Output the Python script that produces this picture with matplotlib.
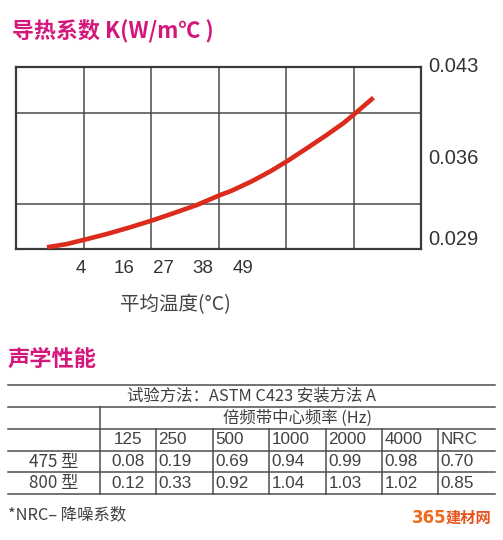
import matplotlib
matplotlib.use("Agg")
import matplotlib.pyplot as plt
import numpy as np

plt.rcParams['font.family'] = ['Liberation Sans', 'Noto Sans CJK SC', 'DejaVu Sans']

# ---------------- data ----------------
title_k = "导热系数 K(W/m℃ )"
title_acoustic = "声学性能"
x_label = "平均温度(°C)"
temp_ticks = [4, 16, 27, 38, 49]
k_ticks = [0.029, 0.036, 0.043]
curve_temp = [-5.4, 0.1, 5.5, 11.2, 17.7, 24.2, 29.7, 36.2, 42.7, 45.7,
              51.3, 56.8, 61.4, 66.8, 72.3, 76.9, 79.9, 85.3]
curve_k = [0.02913, 0.02938, 0.02975, 0.03015, 0.03067, 0.03123, 0.03175,
           0.03238, 0.03315, 0.03346, 0.03418, 0.03500, 0.03577, 0.03675,
           0.03777, 0.03867, 0.03936, 0.04064]

method_text = "试验方法：ASTM C423 安装方法 A"
band_text = "倍频带中心频率 (Hz)"
freq_headers = ["125", "250", "500", "1000", "2000", "4000", "NRC"]
row_labels = ["475 型", "800 型"]
row_475 = ["0.08", "0.19", "0.69", "0.94", "0.99", "0.98", "0.70"]
row_800 = ["0.12", "0.33", "0.92", "1.04", "1.03", "1.02", "0.85"]
footnote = "*NRC– 降噪系数"
watermark_num = "365"
watermark_txt = "建材网"

# ---------------- figure ----------------
W, H = 503, 540
fig = plt.figure(figsize=(W / 100, H / 100), dpi=100)
fig.patch.set_facecolor('white')

def fx(px):
    return px / W

def fy(py):
    return 1 - py / H

# chart axes (pixel box 16..421 x 67..249)
L, R, T, B = 16, 421, 67, 249
ax = fig.add_axes([fx(L), fy(B), fx(R) - fx(L), fy(T) - fy(B)])
xmin, xmax = -14.0, 98.5
ymin, ymax = 0.029, 0.043
ax.set_xlim(xmin, xmax)
ax.set_ylim(ymin, ymax)

ax.plot(curve_temp, curve_k, color='#dc2a1c', lw=3.3, solid_capstyle='butt',
        solid_joinstyle='round', zorder=3)

# grid
ax.set_xticks(np.linspace(xmin, xmax, 7)[1:-1], minor=True)
ax.set_yticks(np.linspace(ymin, ymax, 5)[1:-1], minor=True)
ax.grid(which='minor', color='#4a4a4a', lw=1.1)
ax.tick_params(which='minor', length=0)

ax.set_xticks(temp_ticks)
ax.set_xticklabels([str(t) for t in temp_ticks])
ax.set_yticks(k_ticks)
ax.set_yticklabels([f"{k:.3f}" for k in k_ticks])
ax.yaxis.tick_right()
ax.tick_params(axis='x', length=0, pad=8, labelsize=13.5, labelcolor='#333333')
ax.tick_params(axis='y', length=0, pad=5, labelsize=14.5, labelcolor='#333333')
vas = ['bottom', 'center', 'center']
for lab, va in zip(ax.get_yticklabels(), vas):
    lab.set_va(va)
for s in ax.spines.values():
    s.set_color('#3a3a3a')
    s.set_linewidth(1.6)

# overlay axes in pixel coordinates
ov = fig.add_axes([0, 0, 1, 1], zorder=-1)
ov.set_xlim(0, W)
ov.set_ylim(H, 0)
ov.axis('off')

magenta = '#d4177c'
cjk = ['Noto Sans CJK SC', 'DejaVu Sans']
ov.text(12, 32, title_k, color=magenta, fontsize=15.8, fontweight='bold',
        family=cjk, ha='left', va='center')
ov.text(175, 305, x_label, color='#444444', fontsize=14, family=cjk,
        ha='center', va='center')
ov.text(8, 359, title_acoustic, color=magenta, fontsize=16, fontweight='bold',
        family=cjk, ha='left', va='center')

# table
txt_color = '#404040'
tfs = 11.8
vfs = 12.3
line_c = '#4d4d4d'
hlines = [385, 407, 429, 451, 472, 494]
for y in hlines:
    ov.plot([8, 495], [y, y], color=line_c, lw=1.1)
col_edges = [100, 156, 213, 269, 326, 382, 438, 495]
ov.plot([100, 100], [407, 494], color=line_c, lw=1.1)
for x in col_edges[1:-1]:
    ov.plot([x, x], [429, 494], color=line_c, lw=1.1)

tfam = ['Liberation Sans', 'Noto Sans CJK SC', 'DejaVu Sans']
ov.text((8 + 495) / 2, 396.5, method_text, color=txt_color, fontsize=tfs,
        family=['Noto Sans CJK SC', 'DejaVu Sans'], ha='center', va='center')
ov.text((100 + 495) / 2, 418, band_text, color=txt_color, fontsize=tfs,
        family=['Noto Sans CJK SC', 'DejaVu Sans'], ha='center', va='center')

row_centers = [440, 461.5, 483]
rows = [freq_headers, row_475, row_800]
for ri, vals in enumerate(rows):
    yc = row_centers[ri]
    for ci, v in enumerate(vals):
        if ci == 0:
            ov.text((col_edges[0] + col_edges[1]) / 2, yc, v, color=txt_color,
                    fontsize=vfs, family=tfam, ha='center', va='center')
        else:
            ov.text(col_edges[ci] + 2.5, yc, v, color=txt_color,
                    fontsize=vfs, family=tfam, ha='left', va='center')
for lab, yc in zip(row_labels, row_centers[1:]):
    ov.text(54, yc, lab, color=txt_color, fontsize=vfs,
            family=['Noto Sans CJK SC', 'DejaVu Sans'], ha='center', va='center')

ov.text(8, 515, footnote, color=txt_color, fontsize=tfs,
        family=['Noto Sans CJK SC', 'DejaVu Sans'], ha='left', va='center')
ov.text(412, 518, watermark_num, color='#f26a1b', fontsize=12, fontweight='bold',
        family=['DejaVu Sans'], ha='left', va='center')
ov.text(446, 518, watermark_txt, color='#e8521c', fontsize=11, fontweight='bold',
        family=['Noto Sans CJK SC', 'DejaVu Sans'], ha='left', va='center')

fig.savefig('out.png', dpi=100, facecolor='white')
